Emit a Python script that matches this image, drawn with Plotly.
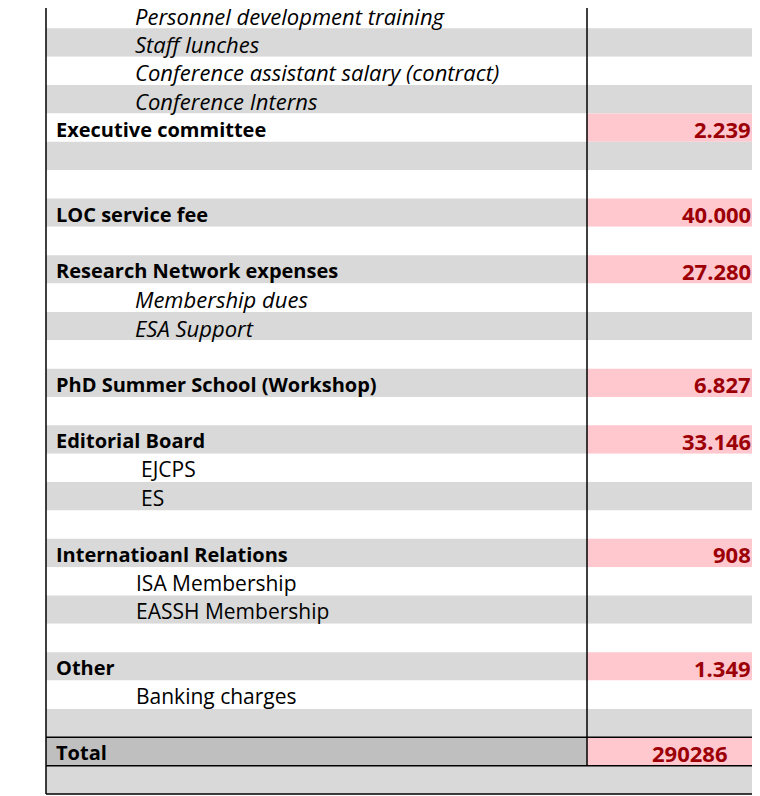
import plotly.graph_objects as go

# --- table content (top to bottom) ---
labels = [
    "Personnel development training", "Staff lunches",
    "Conference assistant salary (contract)", "Conference Interns",
    "Executive committee", "", "", "LOC service fee", "",
    "Research Network expenses", "Membership dues", "ESA Support", "",
    "PhD Summer School (Workshop)", "", "Editorial Board", "EJCPS", "ES", "",
    "Internatioanl Relations", "ISA Membership", "EASSH Membership", "",
    "Other", "Banking charges", "", "Total", "",
]
# h = heading, i = italic sub item, s = plain sub item, t = total, "" = blank row
kinds = [
    "i", "i", "i", "i", "h", "", "", "h", "", "h", "i", "i", "", "h", "",
    "h", "s", "s", "", "h", "s", "s", "", "h", "s", "", "t", "",
]
headings = ["Executive committee", "LOC service fee", "Research Network expenses",
            "PhD Summer School (Workshop)", "Editorial Board",
            "Internatioanl Relations", "Other"]
amounts = [2239, 40000, 27280, 6827, 33146, 908, 1349]
total = 290286

GRAY = "#d9d9d9"
TOTAL_GRAY = "#bfbfbf"
PINK = "#ffc7ce"
RED = "#9c0006"
FONT = "Open Sans"
FS_BOLD, FS_SUB, FS_ITAL, FS_VAL = 20, 21, 22, 22

X_LEFT, X_DIV, X_RIGHT = 46, 587, 757.5
n_rows = len(labels)
amount_of = dict(zip(headings, amounts))
PAGE_PAD = 8  # browser body margin


def fmt(v):
    # european thousands separator
    return f"{v:,}".replace(",", ".")


fig = go.Figure()
shapes = []
annotations = []

for i, (lab, kind) in enumerate(zip(labels, kinds)):
    row_col = GRAY if i % 2 == 1 else "white"
    if kind == "t":
        row_col = TOTAL_GRAY
    last = i == n_rows - 1
    shapes.append(dict(type="rect", xref="x", yref="y", x0=X_LEFT,
                       x1=X_RIGHT if last else X_DIV, y0=i, y1=i + 1,
                       fillcolor=row_col, line_width=0, layer="below"))
    if not last:
        has_val = lab in amount_of or kind == "t"
        shapes.append(dict(type="rect", xref="x", yref="y", x0=X_DIV, x1=X_RIGHT,
                           y0=i, y1=i + 1, fillcolor=PINK if has_val else row_col,
                           line_width=0, layer="below"))

    yt = i + 0.55
    if kind in ("h", "t"):
        annotations.append(dict(x=54, y=yt, text=f"<b>{lab}</b>", xanchor="left",
                                font=dict(size=FS_BOLD, color="black")))
    elif kind == "i":
        annotations.append(dict(x=133, y=yt, text=f"<i>{lab}</i>", xanchor="left",
                                font=dict(size=FS_ITAL, color="black")))
    elif kind == "s":
        x0 = 139 if len(lab) < 6 else 134
        annotations.append(dict(x=x0, y=yt, text=lab, xanchor="left",
                                font=dict(size=FS_SUB, color="black")))

    if lab in amount_of:
        annotations.append(dict(x=753, y=yt, text=f"<b>{fmt(amount_of[lab])}</b>",
                                xanchor="right", font=dict(size=FS_VAL, color=RED)))
    elif kind == "t":
        annotations.append(dict(x=689, y=yt, text=f"<b>{total}</b>",
                                xanchor="center", font=dict(size=FS_VAL, color=RED)))

for a in annotations:
    a.update(xref="x", yref="y", yanchor="middle", showarrow=False)

line = dict(color="black", width=1.5)
t_row = kinds.index("t")
shapes += [
    dict(type="line", xref="x", yref="y", x0=X_LEFT, x1=X_LEFT, y0=-0.5, y1=n_rows, line=line),
    dict(type="line", xref="x", yref="y", x0=X_DIV, x1=X_DIV, y0=-0.5, y1=t_row + 1, line=line),
    dict(type="line", xref="x", yref="y", x0=X_RIGHT, x1=X_RIGHT, y0=6, y1=n_rows, line=line),
]
for yy in (t_row, t_row + 1, n_rows):
    shapes.append(dict(type="line", xref="x", yref="y", x0=X_LEFT, x1=X_RIGHT + 1,
                       y0=yy, y1=yy, line=line))

row_px = 794 / n_rows
fig.update_layout(
    width=760 - PAGE_PAD, height=796 - PAGE_PAD,
    margin=dict(l=0, r=0, t=0, b=0),
    xaxis=dict(visible=False, range=[PAGE_PAD, 760], fixedrange=True),
    yaxis=dict(visible=False, range=[796 / row_px, PAGE_PAD / row_px], fixedrange=True),
    plot_bgcolor="white", paper_bgcolor="white",
    font=dict(family=FONT, color="black"),
    shapes=shapes, annotations=annotations,
    showlegend=False,
)

fig.write_html("out.html", config={"displayModeBar": False})
